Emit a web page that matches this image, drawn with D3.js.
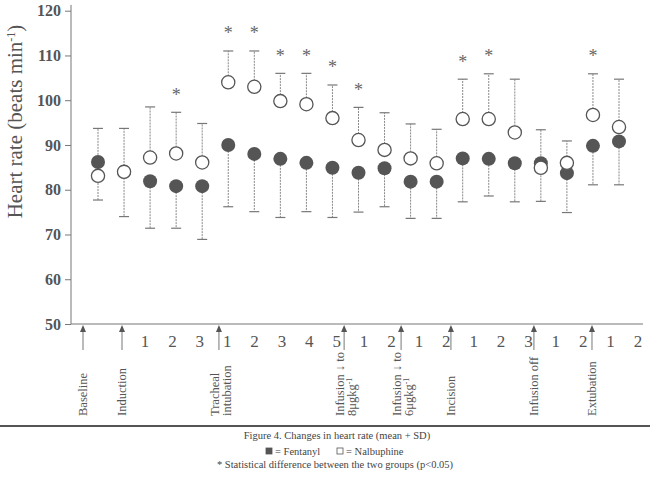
<!DOCTYPE html>
<html>
<head>
<meta charset="utf-8">
<script src="https://cdn.jsdelivr.net/npm/d3@7"></script>
<style>
    body { margin: 0; background: #fff; }
    text { font-family: "Liberation Serif", "Times New Roman", serif; }
</style>
</head>
<body>
<div id="chart"></div>
<script>
// Heart rate, mean with one SD (Fentanyl drawn downwards, Nalbuphine upwards)
const timepoints = ["Baseline", "Induction", "1", "2", "3",
    "T1", "T2", "T3", "T4", "T5", "I8-1", "I8-2", "I6-1", "I6-2",
    "Inc1", "Inc2", "Inc3", "Off1", "Off2", "Ext1", "Ext2"];
const fentanylMean = [86.2, 84.0, 81.9, 80.8, 80.8, 90.0, 88.0, 86.9, 86.0, 84.9, 83.8,
    84.8, 81.8, 81.8, 87.0, 86.9, 85.9, 85.9, 83.7, 89.8, 90.8];
const fentanylSD = [8.5, 10.0, 10.5, 9.4, 11.9, 13.8, 12.9, 13.1, 10.9, 11.1, 8.8,
    8.6, 8.2, 8.2, 9.7, 8.3, 8.6, 8.5, 8.8, 8.7, 9.7];
const nalbuphineMean = [83.1, 84.0, 87.2, 88.1, 86.1, 104.0, 103.0, 99.8, 99.1, 96.0, 91.1,
    88.9, 87.0, 85.9, 95.8, 95.8, 92.8, 84.9, 86.0, 96.7, 94.0];
const nalbuphineSD = [10.6, 9.7, 11.3, 9.2, 8.7, 7.0, 8.0, 6.2, 6.9, 7.4, 7.3,
    8.3, 7.7, 7.6, 8.9, 10.1, 11.9, 8.5, 4.9, 9.2, 10.7];
// time points with a significant difference between the groups
const significant = [3, 5, 6, 7, 8, 9, 10, 14, 15, 19];

const yTicks = [50, 60, 70, 80, 90, 100, 110, 120];

// numbered minutes under the axis and the slot they stand in
const minuteLabels = ["1", "2", "3", "1", "2", "3", "4", "5", "1", "2",
    "1", "2", "1", "2", "3", "1", "2", "1", "2"];
const minuteSlots = [2, 3, 4, 5, 6, 7, 8, 9, 10, 11, 12, 13, 14, 15, 16, 17, 18, 19, 20];

// events marked with an arrow
const eventLabels = [["Baseline"], ["Induction"], ["Tracheal", "intubation"],
    ["Infusion \u2193 to", "8\u03bcgkg^-1"], ["Infusion \u2193 to", "6\u03bcgkg^-1"],
    ["Incision"], ["Infusion off"], ["Extubation"]];
const eventSlots = [0, 1, 4.7, 9.27, 11.35, 13.17, 16.2, 18.32];

const captionLines = ["Figure 4. Changes in heart rate (mean + SD)",
    "* Statistical difference between the two groups (p<0.05)"];
const legendLabels = ["= Fentanyl", "= Nalbuphine"];

const W = 650, H = 482;
const svg = d3.select("#chart").append("svg")
    .attr("width", W).attr("height", H);

const x = d3.scaleLinear().domain([0, timepoints.length - 1]).range([98, 619]);
const xLabel = d3.scaleLinear().domain([0, 1, 2, 20]).range([83, 122, 145, 638]);
const y = d3.scaleLinear().domain([50, 120]).range([324, 10.7]);

const grey = "#555";

// Y axis
const yAxis = svg.append("g")
    .attr("transform", "translate(71,0)")
    .call(d3.axisLeft(y).tickValues(yTicks).tickSize(6).tickPadding(4));
yAxis.select(".domain").remove();
yAxis.selectAll("line").attr("stroke", "#777");
yAxis.selectAll("text")
    .attr("fill", grey)
    .style("font-size", "16px")
    .style("font-weight", "bold")
    .style("font-family", '"Liberation Serif", serif');

svg.append("line")
    .attr("x1", 71).attr("x2", 71)
    .attr("y1", y(50)).attr("y2", y(121.3))
    .attr("stroke", "#777");

// X axis line
svg.append("line")
    .attr("x1", 71).attr("x2", 643)
    .attr("y1", y(50)).attr("y2", y(50))
    .attr("stroke", "#777");

// Y axis title
const yTitle = svg.append("text")
    .attr("transform", "translate(22,121.5) rotate(-90)")
    .attr("text-anchor", "middle")
    .attr("fill", grey)
    .style("font-size", "21px")
    .text("Heart rate (beats min");
yTitle.append("tspan").attr("baseline-shift", "super").style("font-size", "12px").text("-1");
yTitle.append("tspan").text(")");

// error bars
const capHalf = 5;
function errorBar(means, sds, dir) {
    const g = svg.append("g");
    means.forEach(function (m, i) {
        const end = m + dir * sds[i];
        g.append("line")
            .attr("x1", x(i)).attr("x2", x(i))
            .attr("y1", y(m)).attr("y2", y(end))
            .attr("stroke", "#888")
            .attr("stroke-dasharray", "2,1");
        g.append("line")
            .attr("x1", x(i) - capHalf).attr("x2", x(i) + capHalf)
            .attr("y1", y(end)).attr("y2", y(end))
            .attr("stroke", "#777")
            .attr("stroke-width", 1.2);
    });
}
errorBar(fentanylMean, fentanylSD, -1);
errorBar(nalbuphineMean, nalbuphineSD, 1);

// points
svg.append("g").selectAll("circle")
    .data(fentanylMean)
    .join("circle")
    .attr("cx", (d, i) => x(i))
    .attr("cy", (d) => y(d))
    .attr("r", 7)
    .attr("fill", grey);

svg.append("g").selectAll("circle")
    .data(nalbuphineMean)
    .join("circle")
    .attr("cx", (d, i) => x(i))
    .attr("cy", (d) => y(d))
    .attr("r", 6.6)
    .attr("fill", "#fff")
    .attr("stroke", grey)
    .attr("stroke-width", 1.3);

// significance stars above the upper cap
svg.append("g").selectAll("text")
    .data(significant)
    .join("text")
    .attr("x", (i) => x(i))
    .attr("y", (i) => y(nalbuphineMean[i] + nalbuphineSD[i]) - 20 + 8.5)
    .attr("text-anchor", "middle")
    .attr("fill", "#666")
    .style("font-size", "18px")
    .text("*");

// minute numbers
svg.append("g").selectAll("text")
    .data(minuteLabels)
    .join("text")
    .attr("x", (d, i) => xLabel(minuteSlots[i]))
    .attr("y", 347)
    .attr("text-anchor", "middle")
    .attr("fill", grey)
    .style("font-size", "17px")
    .text((d) => d);

// event arrows and labels
eventLabels.forEach(function (lines, k) {
    const ax = xLabel(eventSlots[k]);
    svg.append("path")
        .attr("d", `M${ax},${y(50) + 1}L${ax - 3},${y(50) + 8}L${ax + 3},${y(50) + 8}Z`)
        .attr("fill", grey);
    svg.append("line")
        .attr("x1", ax).attr("x2", ax)
        .attr("y1", y(50) + 8).attr("y2", 350)
        .attr("stroke", "#777");

    const startX = lines.length === 1 ? ax + 4 : ax;
    lines.forEach(function (line, j) {
        const t = svg.append("text")
            .attr("transform", `translate(${startX + j * 12},416) rotate(-90)`)
            .attr("fill", grey)
            .style("font-size", "12.5px");
        const parts = line.split("^");
        t.append("tspan").text(parts[0]);
        if (parts[1]) {
            t.append("tspan").attr("baseline-shift", "super")
                .style("font-size", "8px").text(parts[1]);
        }
    });
});

// caption
svg.append("line")
    .attr("x1", 0).attr("x2", W)
    .attr("y1", 426).attr("y2", 426)
    .attr("stroke", "#555")
    .attr("stroke-width", 2);

svg.append("text")
    .attr("x", 337).attr("y", 439)
    .attr("text-anchor", "middle")
    .attr("fill", "#444")
    .style("font-size", "10.5px")
    .text(captionLines[0]);

svg.append("text")
    .attr("x", 335).attr("y", 468)
    .attr("text-anchor", "middle")
    .attr("fill", "#444")
    .style("font-size", "10.5px")
    .text(captionLines[1]);

// legend row
const legendX = [266, 337];
legendLabels.forEach(function (label, i) {
    svg.append("rect")
        .attr("x", legendX[i]).attr("y", 448)
        .attr("width", 6).attr("height", 6)
        .attr("fill", i === 0 ? grey : "#fff")
        .attr("stroke", grey)
        .attr("stroke-width", 0.8);
    svg.append("text")
        .attr("x", legendX[i] + 9).attr("y", 455)
        .attr("fill", "#444")
        .style("font-size", "10.5px")
        .text(label);
});
</script>
</body>
</html>
